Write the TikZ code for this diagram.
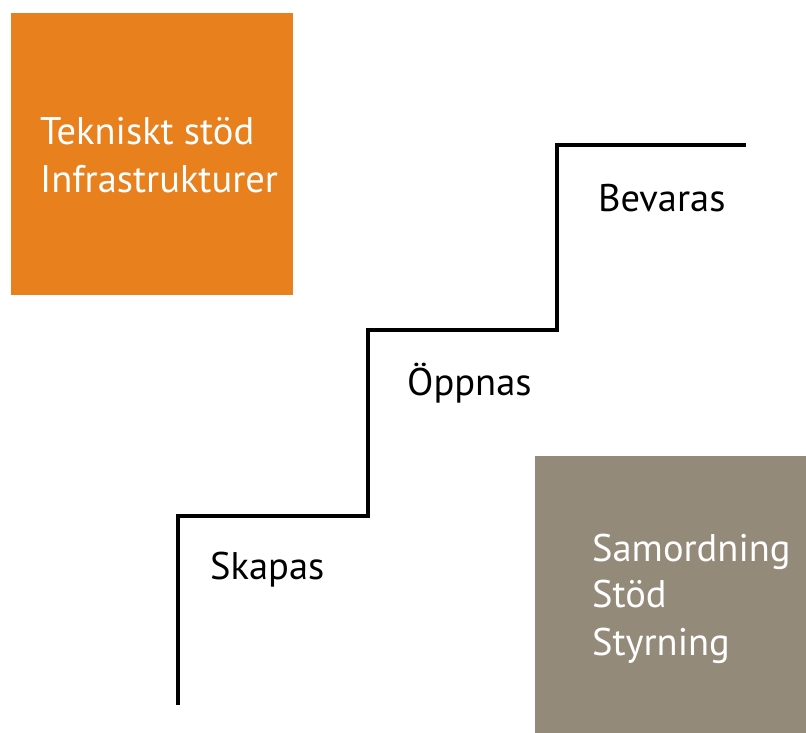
\documentclass[tikz,border=0pt]{standalone}
\usepackage{fontspec}
\setmainfont{PT Sans}
\definecolor{orx}{RGB}{232,128,30}
\definecolor{grx}{RGB}{148,138,122}
\tikzset{
    lbl/.style={anchor=base west,inner sep=0pt,font=\fontsize{38.5}{46}\selectfont},
}

\begin{document}
\begin{tikzpicture}[x=1pt,y=1pt]
            \useasboundingbox (0,0) rectangle (806,733);
            \fill [orx] (11,438) rectangle (293,720);
            \fill [grx] (535,0) rectangle (806,277);
            \draw [black,line width=3.2pt,line cap=butt]
                (178,28)
                to (178,217)
                to (368,217)
                to (368,403)
                to (557,403)
                to (557,588)
                to (746,588)
            ;
            \node [lbl] (skapas) at (210,153) {Skapas};
            \node [lbl] (oppnas) at (407,337) {Öppnas};
            \node [lbl] (bevaras) at (598,521) {Bevaras};
            \node [lbl,white] (tek) at (40,588) {Tekniskt stöd};
            \node [lbl,white] (infra) at (40,540) {Infrastrukturer};
            \foreach \t/\y [count=\i] in {Samordning/171,Stöd/125,Styrning/77} {
                \node [lbl,white] (sam\i) at (592,\y) {\t};
            }
\end{tikzpicture}
\end{document}
